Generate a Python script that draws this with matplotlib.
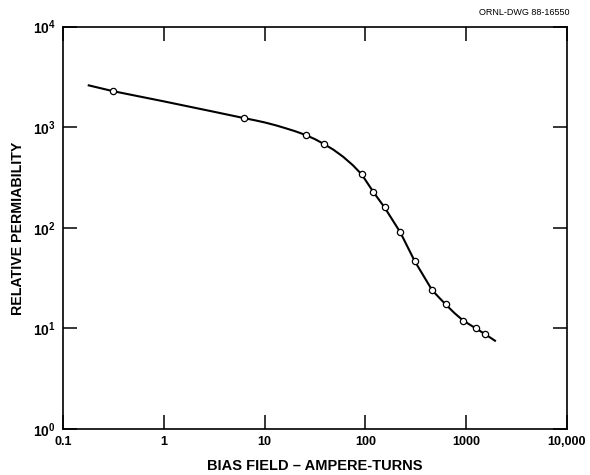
import matplotlib
matplotlib.use('Agg')
import matplotlib.pyplot as plt
from matplotlib.ticker import FixedLocator, NullLocator

# measured points (bias field, relative permeability)
bias_pts = [0.311, 6.25, 25.7, 38.8, 91.9, 119.7, 156, 222, 308, 458, 627, 930, 1250, 1548]
perm_pts = [2290, 1234, 836, 681, 340, 225, 160, 90.2, 46.8, 24.1, 17.5, 11.9, 10.0, 8.74]

# smooth fitted curve
bias_fit = [0.18, 0.311, 1.0, 3.0, 6.25, 8, 10, 13, 16, 20, 25.7, 32, 38.8, 48, 60, 75,
            91.9, 119.7, 156, 222, 308, 458, 540, 627, 760, 930, 1250, 1548, 1930]
perm_fit = [2610, 2290, 1810, 1440, 1234, 1174, 1118, 1044, 981, 915, 836, 757, 681, 600,
            510, 420, 340, 228, 158, 90.2, 46.8, 24.1, 20.2, 17.3, 14.3, 12.0, 10.0, 8.74, 7.55]

x_ticks = [0.1, 1, 10, 100, 1000, 10000]
x_labels = ['0.1', '1', '10', '100', '1000', '10,000']
y_ticks = [1, 10, 100, 1000, 10000]
y_labels = [r'$\mathbf{10^{%d}}$' % i for i in range(5)]

plt.rcParams['font.family'] = ['Liberation Sans', 'DejaVu Sans']
plt.rcParams['mathtext.fontset'] = 'custom'
plt.rcParams['mathtext.rm'] = 'Liberation Sans'
plt.rcParams['mathtext.bf'] = 'Liberation Sans:bold'

fig = plt.figure(figsize=(5.9, 4.75), dpi=100)
ax = fig.add_axes([0.1068, 0.0968, 0.8542, 0.847])

ax.plot(bias_fit, perm_fit, '-', color='black', lw=1.5, zorder=2)
ax.plot(bias_pts, perm_pts, 'o', ms=4.5, mfc='white', mec='black', mew=0.9, zorder=3)

ax.set_xscale('log')
ax.set_yscale('log')
ax.set_xlim(0.1, 10000)
ax.set_ylim(1, 10000)

ax.xaxis.set_major_locator(FixedLocator(x_ticks))
ax.yaxis.set_major_locator(FixedLocator(y_ticks))
ax.xaxis.set_minor_locator(NullLocator())
ax.yaxis.set_minor_locator(NullLocator())
ax.set_xticklabels(x_labels, fontsize=9, fontweight='bold')
ax.set_yticklabels(y_labels, fontsize=10)

ax.tick_params(which='major', direction='in', length=10, width=1.1,
               top=True, right=True, pad=5)
for sp in ax.spines.values():
    sp.set_linewidth(1.2)

ax.set_xlabel('BIAS FIELD \u2013 AMPERE-TURNS', fontsize=10.5, fontweight='bold', labelpad=8)
ax.set_ylabel('RELATIVE PERMIABILITY', fontsize=10.2, fontweight='bold', labelpad=6)

fig.text(0.966, 0.973, 'ORNL-DWG 88-16550', ha='right', va='center', fontsize=6.5)

fig.savefig('out.png', dpi=100)
